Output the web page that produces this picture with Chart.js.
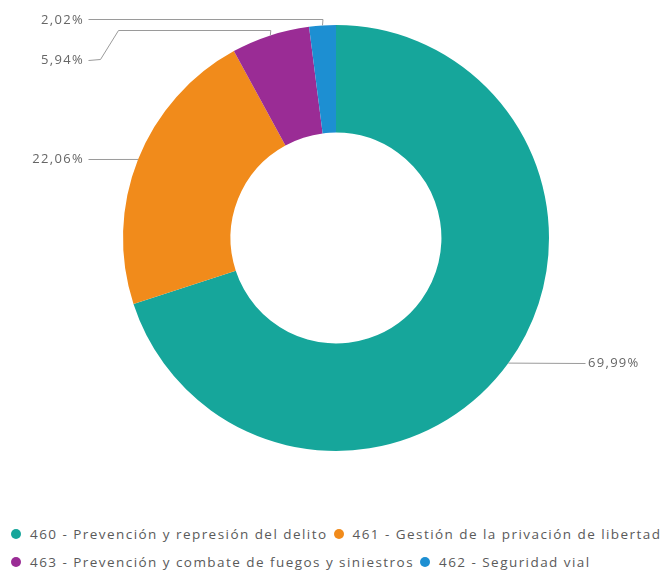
<!DOCTYPE html>
<html>
<head>
<meta charset="utf-8">
<script src="https://cdn.jsdelivr.net/npm/chart.js@4/dist/chart.umd.min.js"></script>
<style>
  body { margin: 0; background: #fff; font-family: "Open Sans", sans-serif; }
  #wrap { position: relative; width: 668px; height: 510px; }
  #legend { position: absolute; left: 11px; top: 524px; width: 657px; display: flex; flex-wrap: wrap; row-gap: 8px; }
  .item { display: flex; align-items: center; font-size: 13.5px; letter-spacing: 1.45px; color: #5a5a5a; margin-right: 6px; height: 20px; white-space: nowrap; }
  .dot { width: 10px; height: 10px; border-radius: 50%; margin-right: 9px; }
</style>
</head>
<body>
<div id="wrap"><canvas id="chart-donut"></canvas></div>
<div id="legend"></div>
<script>
// Data
const categories = [
  '460 - Prevención y represión del delito',
  '461 - Gestión de la privación de libertad',
  '463 - Prevención y combate de fuegos y siniestros',
  '462 - Seguridad vial'
];
const shares = [69.99, 22.06, 5.94, 2.02];
const colors = ['#16a69b', '#f18b1b', '#9a2c95', '#1d8fd2'];

// where each label's leader line goes (null = keep the value of the previous point)
const leaders = [
  { path: [[585, null]], text: [588, null], align: 'left' },
  { path: [[88, null]], text: [84, null], align: 'right' },
  { path: [[null, 30], [118, 30], [100, 59], [88, 60]], text: [84, 60], align: 'right' },
  { path: [[null, 19], [88, 19]], text: [84, 20], align: 'right' }
];

function fmt(v) {
  return v.toFixed(2).replace('.', ',') + '%';
}

const leaderLabels = {
  id: 'leaderLabels',
  afterDatasetsDraw(chart) {
    const ctx = chart.ctx;
    const arcs = chart.getDatasetMeta(0).data;
    ctx.save();
    ctx.strokeStyle = '#9a9a9a';
    ctx.lineWidth = 1;
    ctx.fillStyle = '#666';
    ctx.font = '13px "Open Sans", sans-serif';
    ctx.letterSpacing = '1.3px';
    ctx.textBaseline = 'middle';
    arcs.forEach((arc, i) => {
      const mid = (arc.startAngle + arc.endAngle) / 2;
      const x0 = arc.x + Math.cos(mid) * arc.outerRadius;
      const y0 = arc.y + Math.sin(mid) * arc.outerRadius;
      const lay = leaders[i];
      ctx.beginPath();
      ctx.moveTo(x0, y0);
      let px = x0, py = y0;
      lay.path.forEach(p => {
        px = p[0] === null ? px : p[0];
        py = p[1] === null ? py : p[1];
        ctx.lineTo(px + 0.5, Math.round(py) + 0.5);
      });
      ctx.stroke();
      ctx.textAlign = lay.align;
      const ty = lay.text[1] === null ? y0 : lay.text[1];
      ctx.fillText(fmt(shares[i]), lay.text[0], ty);
    });
    ctx.restore();
  }
};

const ctx = document.getElementById('chart-donut').getContext('2d');
window.myDonut = new Chart(ctx, {
  type: 'doughnut',
  data: {
    labels: categories,
    datasets: [{
      data: shares,
      backgroundColor: colors,
      borderWidth: 0
    }]
  },
  options: {
    responsive: true,
    maintainAspectRatio: false,
    animation: false,
    cutout: '49.5%',
    layout: { padding: { top: 25, bottom: 59, left: 4, right: 0 } },
    plugins: {
      legend: { display: false },
      tooltip: { enabled: false }
    }
  },
  plugins: [leaderLabels]
});

// legend built from the same arrays
const legendEl = document.getElementById('legend');
categories.forEach((c, i) => {
  const item = document.createElement('div');
  item.className = 'item';
  item.innerHTML = '<span class="dot" style="background:' + colors[i] + '"></span>' + c;
  legendEl.appendChild(item);
});
</script>
</body>
</html>
